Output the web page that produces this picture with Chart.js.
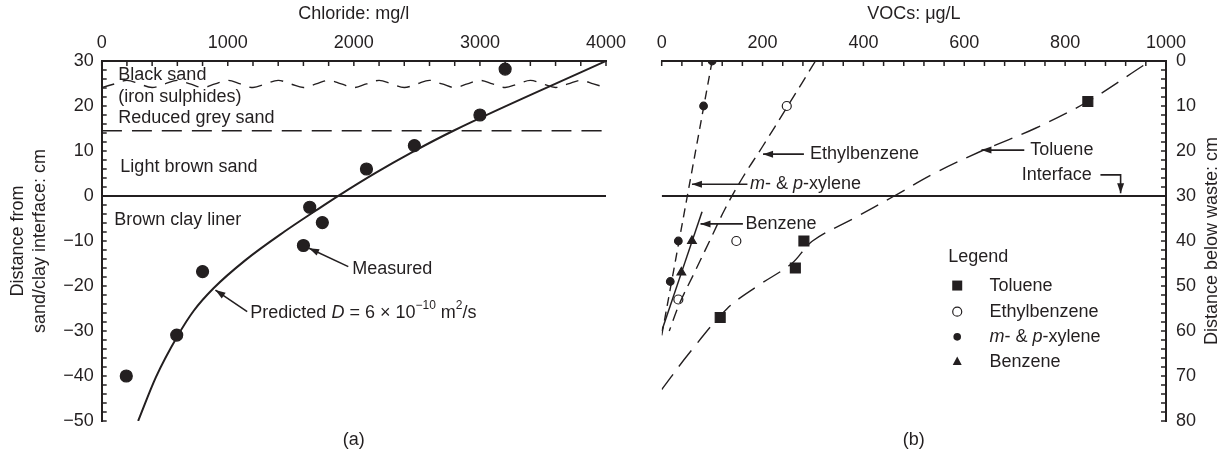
<!DOCTYPE html>
<html lang="en">
<head>
<meta charset="UTF-8">
<title>Chloride and VOC profiles</title>
<script src="https://cdn.jsdelivr.net/npm/chart.js"></script>
<style>
  body { margin: 0; background: #fff; }
  #wrap { position: relative; width: 1222px; height: 453px; }
  canvas { position: absolute; top: 0; }
  #chartA { left: 0; }
  #chartB { left: 630px; }
</style>
</head>
<body>
<div id="wrap">
  <canvas id="chartA" width="640" height="453"></canvas>
  <canvas id="chartB" width="592" height="453"></canvas>
</div>
<script>
// ---- panel (a): chloride ----
const chlorideMeasured = [3200, 3000, 2480, 2100, 1650, 1750, 1600, 800, 595, 195];
const depthMeasured    = [28.2, 18, 11.2, 6, -2.5, -5.9, -11, -16.8, -30.9, -40];
const chloridePredicted = [289, 431, 604, 730, 887, 1138, 1450, 1700, 1880, 2176, 2460, 2790, 4000];
const depthPredicted    = [-50, -40.2, -31, -25.5, -20.5, -14.3, -7.9, -3.2, 0.1, 5.2, 9.7, 14.5, 30];
const waveX = [0, 100, 200, 300, 400, 500, 600, 700, 800, 900, 1000, 1100, 1200, 1300, 1400, 1500,
               1600, 1700, 1800, 1900, 2000, 2100, 2200, 2300, 2400, 2500, 2600, 2700, 2800, 2900,
               3000, 3100, 3200, 3300, 3400, 3500, 3600, 3700, 3800, 3900, 4000];
const waveY = [24.1, 24.9, 25.7, 24.9, 24.1, 24.9, 25.7, 24.9, 24.1, 24.9, 25.7, 24.9, 24.1, 24.9,
               25.7, 24.9, 24.1, 24.9, 25.7, 24.9, 24.1, 24.9, 25.7, 24.9, 24.1, 24.9, 25.7, 24.9,
               24.1, 24.9, 25.7, 24.9, 24.1, 24.9, 25.7, 24.9, 24.1, 24.9, 25.7, 24.9, 24.1];
const greySandTop = 14.5;
const clayTop = 0;
const chlorideRange = [0, 4000];
const depthRangeA = [-50, 30];

// ---- panel (b): VOCs ----
const tolueneConc = [845, 282, 265, 116];
const tolueneDepth = [9, 40, 46, 57];
const ethylConc = [248, 148, 33];
const ethylDepth = [10, 40, 53];
const xyleneConc = [100, 83, 33, 17];
const xyleneDepth = [0, 10, 40, 49];
const benzeneConc = [60, 39];
const benzeneDepth = [40, 47];
const tolueneFitConc  = [955, 845, 740, 634, 540, 461, 380, 299, 258, 190, 130, 54, 0];
const tolueneFitDepth = [1, 9, 15, 20, 25, 30, 35, 40, 45, 50, 55, 65, 73];
const ethylFitConc  = [305, 250, 200, 160, 125, 95, 65, 35, 15];
const ethylFitDepth = [0, 10, 19, 26, 33, 40, 47, 54, 60];
const xyleneFitConc  = [100, 0];
const xyleneFitDepth = [0, 61];
const benzeneFitConc  = [80, 0];
const benzeneFitDepth = [33.5, 60];
const wasteInterface = 30;
const vocRange = [0, 1000];
const depthRangeB = [0, 80];

const FONT = "'Liberation Sans', Arial, Helvetica, sans-serif";
const INK = '#231f20';
Chart.defaults.font.family = FONT;
Chart.defaults.font.size = 18;
Chart.defaults.color = INK;

function pts(xs, ys) { return xs.map((x, i) => ({ x: x, y: ys[i] })); }

function minus(v) { return v < 0 ? '\u2212' + Math.abs(v) : String(v); }

function arrowHead(ctx, x0, y0, x1, y1) {
  const a = Math.atan2(y1 - y0, x1 - x0), L = 10, W = 3.5;
  const c = Math.cos(a), s = Math.sin(a);
  ctx.beginPath();
  ctx.moveTo(x1, y1);
  ctx.lineTo(x1 - L * c + W * s, y1 - L * s - W * c);
  ctx.lineTo(x1 - L * c - W * s, y1 - L * s + W * c);
  ctx.closePath();
  ctx.fill();
}

// text made of pieces: {t, i: italic, sup: superscript}
function drawRich(ctx, segs, x, y) {
  let cx = x;
  for (const s of segs) {
    const size = s.sup ? 12 : 18;
    ctx.font = (s.i ? 'italic ' : '') + size + 'px ' + FONT;
    ctx.fillText(s.t, cx, s.sup ? y - 7 : y);
    cx += ctx.measureText(s.t).width;
  }
}

function drawMarker(ctx, style, x, y) {
  ctx.beginPath();
  if (style === 'rect') {
    ctx.rect(x - 5, y - 5, 10, 10);
    ctx.fill();
  } else if (style === 'ring') {
    ctx.arc(x, y, 4.5, 0, Math.PI * 2);
    ctx.fillStyle = '#fff'; ctx.fill();
    ctx.lineWidth = 1.2; ctx.stroke();
    ctx.fillStyle = INK;
  } else if (style === 'dot') {
    ctx.arc(x, y, 3.8, 0, Math.PI * 2);
    ctx.fill();
  } else {
    ctx.moveTo(x, y - 5); ctx.lineTo(x + 4.5, y + 3.5); ctx.lineTo(x - 4.5, y + 3.5);
    ctx.closePath(); ctx.fill();
  }
}

const notesPlugin = {
  id: 'notes',
  afterDatasetsDraw(chart, args, opts) {
    const { ctx, chartArea: area } = chart;
    const x = chart.scales.x, y = chart.scales.y;
    ctx.save();
    ctx.fillStyle = INK;
    ctx.strokeStyle = INK;

    // inner tick marks
    ctx.lineWidth = 1.5;
    const nx = Math.round((x.max - x.min) / opts.minorX);
    for (let i = 0; i <= nx; i++) {
      const px = x.getPixelForValue(x.min + i * opts.minorX);
      ctx.beginPath(); ctx.moveTo(px, area.top); ctx.lineTo(px, area.top + 5); ctx.stroke();
    }
    const ny = Math.round((y.max - y.min) / opts.minorY);
    const ex = opts.yRight ? area.right : area.left;
    const dir = opts.yRight ? -1 : 1;
    for (let i = 0; i <= ny; i++) {
      const py = y.getPixelForValue(y.min + i * opts.minorY);
      ctx.beginPath(); ctx.moveTo(ex, py); ctx.lineTo(ex + dir * 5, py); ctx.stroke();
    }

    // labels and arrows
    ctx.textBaseline = 'middle';
    ctx.textAlign = 'left';
    (opts.labels || []).forEach(l => {
      drawRich(ctx, l.segs, x.getPixelForValue(l.at[0]), y.getPixelForValue(l.at[1]));
    });
    ctx.lineWidth = 1.6;
    (opts.arrows || []).forEach(a => {
      const p = a.map(q => [x.getPixelForValue(q[0]), y.getPixelForValue(q[1])]);
      ctx.beginPath();
      ctx.moveTo(p[0][0], p[0][1]);
      for (let i = 1; i < p.length; i++) ctx.lineTo(p[i][0], p[i][1]);
      ctx.stroke();
      const n = p.length;
      arrowHead(ctx, p[n - 2][0], p[n - 2][1], p[n - 1][0], p[n - 1][1]);
    });

    if (opts.legend) {
      const lg = opts.legend;
      drawRich(ctx, [{ t: 'Legend' }], x.getPixelForValue(lg.title[0]), y.getPixelForValue(lg.title[1]));
      lg.rows.forEach(r => {
        const py = y.getPixelForValue(r.y);
        drawMarker(ctx, r.marker, x.getPixelForValue(lg.markerX), py);
        drawRich(ctx, r.segs, x.getPixelForValue(lg.textX), py);
      });
    }

    // axis titles and caption
    ctx.font = '18px ' + FONT;
    ctx.textAlign = 'center';
    const cx = (area.left + area.right) / 2;
    ctx.fillText(opts.xTitle, cx, 14);
    ctx.fillText(opts.caption, cx, area.bottom + 19);
    const cy = (area.top + area.bottom) / 2;
    opts.yTitle.forEach((t, i) => {
      ctx.save();
      ctx.translate(opts.yTitleX[i], cy);
      ctx.rotate(-Math.PI / 2);
      ctx.fillText(t, 0, 0);
      ctx.restore();
    });
    ctx.restore();
  }
};

function lineSet(data, width, dash, mode) {
  return { data: data, showLine: true, borderColor: INK, borderWidth: width, borderDash: dash || [],
           pointRadius: 0, tension: 0.35, cubicInterpolationMode: mode || 'default', fill: false };
}
function pointSet(data, style, radius, fillColor) {
  return { data: data, showLine: false, pointStyle: style, pointRadius: radius, pointHoverRadius: radius,
           backgroundColor: fillColor, borderColor: INK, borderWidth: 1.2 };
}

function axisX(range, labelStep) {
  return {
    type: 'linear', position: 'top', min: range[0], max: range[1],
    grid: { display: true, drawOnChartArea: false, drawTicks: false },
    border: { display: true, color: INK, width: 2 },
    ticks: { stepSize: labelStep, padding: 7, autoSkip: false, maxRotation: 0, color: INK,
             callback: v => String(v) },
    afterFit(s) { s.height = 61; s.paddingLeft = 0; s.paddingRight = 0; }
  };
}
function axisY(range, pos, width, reverse) {
  return {
    type: 'linear', position: pos, min: range[0], max: range[1], reverse: !!reverse,
    grid: { display: true, drawOnChartArea: false, drawTicks: false },
    border: { display: true, color: INK, width: 2 },
    ticks: { stepSize: 10, padding: pos === 'left' ? 8 : 10, color: INK, callback: v => minus(v) },
    afterFit(s) { s.width = width; s.paddingTop = 0; s.paddingBottom = 0; }
  };
}

const baseOpts = {
  responsive: false, animation: false, devicePixelRatio: 1,
  plugins: { legend: { display: false }, tooltip: { enabled: false } },
  events: []
};

new Chart(document.getElementById('chartA'), {
  type: 'scatter',
  data: {
    datasets: [
      lineSet(pts(chlorideRange, [clayTop, clayTop]), 2),
      lineSet(pts(chlorideRange, [greySandTop, greySandTop]), 1.6, [20, 10]),
      lineSet(pts(waveX, waveY), 1.4, [13, 9]),
      lineSet(pts(chloridePredicted, depthPredicted), 2, [], 'monotone'),
      pointSet(pts(chlorideMeasured, depthMeasured), 'circle', 6, INK)
    ]
  },
  options: Object.assign({}, baseOpts, {
    layout: { padding: { left: 0, top: 0, right: 34, bottom: 32 } },
    scales: { x: axisX(chlorideRange, 1000), y: axisY(depthRangeA, 'left', 101.7) },
    plugins: Object.assign({}, baseOpts.plugins, {
      notes: {
        minorX: 200, minorY: 2, yRight: false,
        xTitle: 'Chloride: mg/l', caption: '(a)',
        yTitle: ['Distance from', 'sand/clay interface: cm'], yTitleX: [18, 40],
        labels: [
          { at: [132, 26.9], segs: [{ t: 'Black sand' }] },
          { at: [132, 22.1], segs: [{ t: '(iron sulphides)' }] },
          { at: [132, 17.3], segs: [{ t: 'Reduced grey sand' }] },
          { at: [148, 6.5], segs: [{ t: 'Light brown sand' }] },
          { at: [100, -5.3], segs: [{ t: 'Brown clay liner' }] },
          { at: [1987, -16.2], segs: [{ t: 'Measured' }] },
          { at: [1179, -26], segs: [{ t: 'Predicted ' }, { t: 'D', i: true }, { t: ' = 6 \u00d7 10' },
                                    { t: '\u221210', sup: true }, { t: ' m' }, { t: '2', sup: true }, { t: '/s' }] }
        ],
        arrows: [
          [[1956, -15.7], [1645, -11.6]],
          [[1154, -25.7], [902, -20.9]]
        ]
      }
    })
  }),
  plugins: [notesPlugin]
});

const xyleneSegs = [{ t: 'm', i: true }, { t: '- & ' }, { t: 'p', i: true }, { t: '-xylene' }];

new Chart(document.getElementById('chartB'), {
  type: 'scatter',
  data: {
    datasets: [
      lineSet(pts(vocRange, [wasteInterface, wasteInterface]), 2),
      lineSet(pts(tolueneFitConc, tolueneFitDepth), 1.4, [20, 10]),
      lineSet(pts(ethylFitConc, ethylFitDepth), 1.4, [12, 7]),
      lineSet(pts(xyleneFitConc, xyleneFitDepth), 1.4, [9, 6]),
      lineSet(pts(benzeneFitConc, benzeneFitDepth), 1.5),
      pointSet(pts(tolueneConc, tolueneDepth), 'rect', 7, INK),
      pointSet(pts(ethylConc, ethylDepth), 'circle', 4.5, '#fff'),
      pointSet(pts(xyleneConc, xyleneDepth), 'circle', 3.8, INK),
      pointSet(pts(benzeneConc, benzeneDepth), 'triangle', 5, INK)
    ]
  },
  options: Object.assign({}, baseOpts, {
    layout: { padding: { left: 31.7, top: 0, right: 0, bottom: 32 } },
    scales: { x: axisX(vocRange, 200), y: axisY(depthRangeB, 'right', 56, true) },
    plugins: Object.assign({}, baseOpts.plugins, {
      notes: {
        minorX: 40, minorY: 2, yRight: true,
        xTitle: 'VOCs: \u03bcg/L', caption: '(b)',
        yTitle: ['Distance below waste: cm'], yTitleX: [582],
        labels: [
          { at: [294, 20.7], segs: [{ t: 'Ethylbenzene' }] },
          { at: [731, 19.8], segs: [{ t: 'Toluene' }] },
          { at: [714, 25.3], segs: [{ t: 'Interface' }] },
          { at: [175, 27.4], segs: xyleneSegs },
          { at: [166, 36.2], segs: [{ t: 'Benzene' }] }
        ],
        arrows: [
          [[282, 20.7], [201, 20.7]],
          [[719, 19.8], [634, 19.8]],
          [[870, 25.3], [910, 25.3], [910, 29.4]],
          [[170, 27.4], [60, 27.4]],
          [[161, 36.2], [77, 36.2]]
        ],
        legend: {
          title: [568, 43.6], markerX: 586, textX: 650,
          rows: [
            { y: 49.9, marker: 'rect', segs: [{ t: 'Toluene' }] },
            { y: 55.7, marker: 'ring', segs: [{ t: 'Ethylbenzene' }] },
            { y: 61.3, marker: 'dot', segs: xyleneSegs },
            { y: 66.8, marker: 'tri', segs: [{ t: 'Benzene' }] }
          ]
        }
      }
    })
  }),
  plugins: [notesPlugin]
});
</script>
</body>
</html>
